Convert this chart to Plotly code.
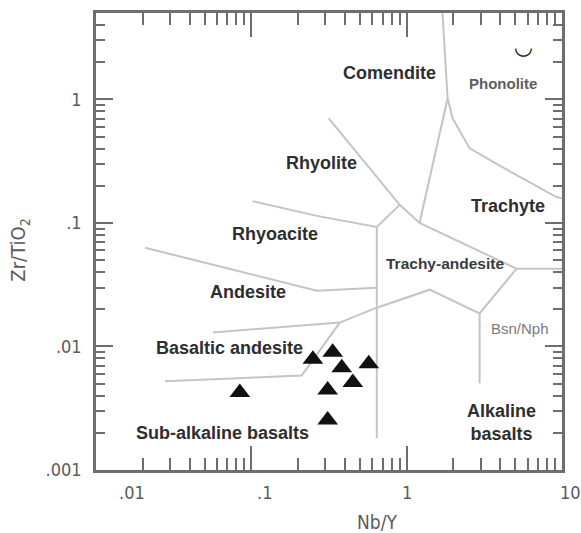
import math
import plotly.graph_objects as go

# Sample compositions: Nb/Y vs Zr/TiO2
sample_nb_y = [0.0843, 0.249, 0.334, 0.382, 0.570, 0.450, 0.310, 0.310]
sample_zr_ti = [0.00423, 0.00786, 0.00899, 0.00673, 0.00725, 0.00510, 0.00444, 0.00254]

# Field boundaries (Nb/Y, Zr/TiO2)
comendite_trachyte_x = [0.315, 0.902, 1.21, 5.10, 10.0]
comendite_trachyte_y = [0.703, 0.140, 0.100, 0.0426, 0.0426]

rhyolite_rhyoacite_x = [0.902, 0.642, 0.264, 0.102]
rhyolite_rhyoacite_y = [0.140, 0.0928, 0.114, 0.150]

subalkaline_alkaline_x = [0.642, 0.642]
subalkaline_alkaline_y = [0.0928, 0.00181]

comendite_phonolite_x = [1.70, 1.835, 1.21]
comendite_phonolite_y = [5.0, 1.02, 0.100]

phonolite_trachyte_x = [1.835, 1.976, 2.54, 3.79, 9.22, 10.0]
phonolite_trachyte_y = [1.02, 0.703, 0.403, 0.300, 0.162, 0.158]

rhyoacite_andesite_x = [0.0207, 0.264, 0.642]
rhyoacite_andesite_y = [0.0629, 0.0283, 0.0299]

andesite_basaltic_x = [0.0566, 0.371, 0.642, 1.406, 2.948, 5.10]
andesite_basaltic_y = [0.0130, 0.0156, 0.0206, 0.0288, 0.0185, 0.0426]

bsn_nph_x = [2.948, 2.948]
bsn_nph_y = [0.0185, 0.00503]

basaltic_subalkaline_x = [0.0278, 0.211, 0.371]
basaltic_subalkaline_y = [0.00522, 0.00583, 0.0156]

# Field names and where they sit (Nb/Y, Zr/TiO2)
field_names = ["Comendite", "Rhyolite", "Trachyte", "Rhyoacite", "Andesite",
               "Basaltic andesite", "Sub-alkaline basalts", "Alkaline<br>basalts"]
field_x = [0.778, 0.284, 4.46, 0.142, 0.095, 0.0727, 0.0656, 4.08]
field_y = [1.62, 0.305, 0.137, 0.0815, 0.0278, 0.00964, 0.00199, 0.00244]

minor_names = ["Phonolite", "Trachy-andesite", "Bsn/Nph", "\u25e1"]
minor_x = [4.14, 1.755, 5.33, 5.66]
minor_y = [1.35, 0.0467, 0.0140, 2.70]

# Axis ticks
x_major = [0.01, 0.1, 1, 10]
x_labels = [".01", ".1", "1", "10"]
y_major = [0.001, 0.01, 0.1, 1]
y_labels = [".001", ".01", ".1", "1"]
x_minor = [m * d for d in (0.01, 0.1, 1) for m in range(2, 10)]
y_minor = [m * d for d in (0.001, 0.01, 0.1, 1) for m in range(2, 10) if m * d < 5]

LINE = "#c4c4c4"
AXIS = "#6e6e6e"
NARROW = "Liberation Sans Narrow, Arial Narrow, DejaVu Sans Condensed, sans-serif"
SANS = "Liberation Sans, Arial, sans-serif"

lg = math.log10  # annotations on log axes take log10 positions

fig = go.Figure()

boundaries = [
    (comendite_trachyte_x, comendite_trachyte_y),
    (rhyolite_rhyoacite_x, rhyolite_rhyoacite_y),
    (subalkaline_alkaline_x, subalkaline_alkaline_y),
    (comendite_phonolite_x, comendite_phonolite_y),
    (phonolite_trachyte_x, phonolite_trachyte_y),
    (rhyoacite_andesite_x, rhyoacite_andesite_y),
    (andesite_basaltic_x, andesite_basaltic_y),
    (bsn_nph_x, bsn_nph_y),
    (basaltic_subalkaline_x, basaltic_subalkaline_y),
]
for bx, by in boundaries:
    fig.add_trace(go.Scatter(x=bx, y=by, mode="lines",
                             line=dict(color=LINE, width=2),
                             hoverinfo="skip"))

fig.add_trace(go.Scatter(
    x=sample_nb_y, y=sample_zr_ti, mode="markers",
    marker=dict(symbol="triangle-up", size=18, color="#111111",
                line=dict(width=0)),
))

for name, fx, fy in zip(field_names, field_x, field_y):
    fig.add_annotation(x=lg(fx), y=lg(fy), xref="x", yref="y",
                       text=f"<b>{name}</b>", showarrow=False,
                       font=dict(family=SANS, size=18, color="#2e2e2e"))

minor_sizes = [15, 15.5, 15, 22]
minor_colors = ["#5e5e5e", "#3a3a3a", "#7a7a7a", "#222222"]
minor_bold = [True, True, False, True]
minor_family = [SANS, SANS, SANS, "DejaVu Sans"]
for name, fx, fy, sz, col, b, fam in zip(minor_names, minor_x, minor_y,
                                          minor_sizes, minor_colors,
                                          minor_bold, minor_family):
    fig.add_annotation(x=lg(fx), y=lg(fy), xref="x", yref="y",
                       text=f"<b>{name}</b>" if b else name,
                       showarrow=False,
                       font=dict(family=fam, size=sz, color=col))

# x tick labels, each anchored to its tick value
x_label_shift = [36, 13, 0, 8]
for v, t, s in zip(x_major, x_labels, x_label_shift):
    fig.add_annotation(x=lg(v), y=0, xref="x", yref="paper", text=t,
                       showarrow=False, xshift=s, yshift=-22,
                       yanchor="middle",
                       font=dict(family=NARROW, size=18, color="#5a5a5a"))

# axis titles
fig.add_annotation(x=0.603, y=0, xref="paper", yref="paper", text="Nb/Y",
                   showarrow=False, yshift=-52, yanchor="middle",
                   font=dict(family=NARROW, size=19, color="#5a5a5a"))
fig.add_annotation(x=0, y=0.48, xref="paper", yref="paper",
                   text="Zr/TiO<sub>2</sub>", textangle=-90,
                   showarrow=False, xshift=-77, xanchor="center",
                   font=dict(family=NARROW, size=20, color="#5a5a5a"))

axis_common = dict(
    type="log", showgrid=False, zeroline=False,
    showline=True, linecolor=AXIS, linewidth=2.5, mirror="allticks",
    ticks="inside", tickwidth=2, tickcolor=AXIS,
)

fig.update_xaxes(
    **axis_common, range=[-2, 1], tickmode="array", tickvals=x_major,
    showticklabels=False, ticklen=24,
    minor=dict(ticks="inside", ticklen=12, tickwidth=2, tickcolor=AXIS,
               tickmode="array", tickvals=x_minor, showgrid=False),
)
fig.update_yaxes(
    **axis_common, range=[-3, 0.699], tickmode="array", tickvals=y_major,
    ticktext=y_labels, ticklen=17, ticklabelstandoff=8,
    tickfont=dict(family=NARROW, size=18, color="#5a5a5a"),
    minor=dict(ticks="inside", ticklen=9, tickwidth=2, tickcolor=AXIS,
               tickmode="array", tickvals=y_minor, showgrid=False),
)

fig.update_layout(
    width=581, height=533,
    margin=dict(l=96, r=19, t=10, b=63),
    plot_bgcolor="white", paper_bgcolor="white",
    showlegend=False,
)

fig.write_html("out.html")
